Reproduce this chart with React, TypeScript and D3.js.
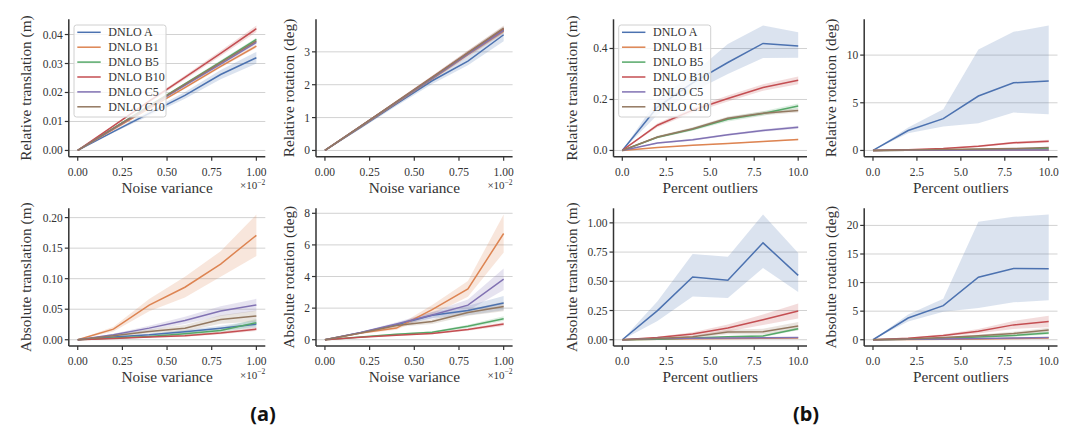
import React from "react";
import * as d3 from "d3";

const W = 1069;
const H = 428;

const seriesNames = ["DNLO A", "DNLO B1", "DNLO B5", "DNLO B10", "DNLO C5", "DNLO C10"];
const palette = ["#4C72B0", "#DD8452", "#55A868", "#C44E52", "#8172B3", "#937860"];

const noiseX = [0, 0.2, 0.4, 0.6, 0.8, 1.0];
const outlierX = [0, 2, 4, 6, 8, 10];
const noiseTicksX = [0, 0.25, 0.5, 0.75, 1.0];
const outlierTicksX = [0, 2.5, 5, 7.5, 10];

// (a) Relative translation vs noise variance
const relTransNoiseMean = [
  [0, 0.0065, 0.0128, 0.019, 0.0262, 0.032],
  [0, 0.0073, 0.0145, 0.0217, 0.029, 0.036],
  [0, 0.0077, 0.0154, 0.023, 0.0306, 0.0383],
  [0, 0.0085, 0.017, 0.0252, 0.0335, 0.042],
  [0, 0.0075, 0.015, 0.0225, 0.0298, 0.0373],
  [0, 0.0076, 0.0152, 0.0228, 0.0303, 0.0378],
];
const relTransNoiseErr = [
  [0, 0.0004, 0.0008, 0.0012, 0.0016, 0.002],
  [0, 0.0002, 0.0003, 0.0004, 0.0005, 0.0006],
  [0, 0.0002, 0.0003, 0.0004, 0.0005, 0.0006],
  [0, 0.0003, 0.0005, 0.0007, 0.0009, 0.0011],
  [0, 0.0002, 0.0003, 0.0004, 0.0005, 0.0006],
  [0, 0.0002, 0.0003, 0.0004, 0.0005, 0.0006],
];

// (a) Relative rotation vs noise variance
const relRotNoiseMean = [
  [0, 0.7, 1.42, 2.12, 2.72, 3.52],
  [0, 0.72, 1.45, 2.18, 2.92, 3.63],
  [0, 0.73, 1.47, 2.2, 2.95, 3.67],
  [0, 0.74, 1.48, 2.22, 2.97, 3.7],
  [0, 0.73, 1.46, 2.19, 2.93, 3.65],
  [0, 0.74, 1.48, 2.22, 2.97, 3.72],
];
const relRotNoiseErr = [
  [0, 0.04, 0.07, 0.1, 0.13, 0.2],
  [0, 0.02, 0.04, 0.05, 0.07, 0.08],
  [0, 0.02, 0.04, 0.05, 0.07, 0.08],
  [0, 0.02, 0.04, 0.05, 0.07, 0.08],
  [0, 0.02, 0.04, 0.05, 0.07, 0.08],
  [0, 0.02, 0.04, 0.05, 0.07, 0.08],
];

// (a) Absolute translation vs noise variance
const absTransNoiseMean = [
  [0, 0.0044, 0.008, 0.013, 0.019, 0.0256],
  [0, 0.0174, 0.0567, 0.086, 0.124, 0.171],
  [0, 0.003, 0.0055, 0.0098, 0.0153, 0.028],
  [0, 0.002, 0.0044, 0.0065, 0.011, 0.0174],
  [0, 0.008, 0.019, 0.0316, 0.047, 0.057],
  [0, 0.0065, 0.0136, 0.019, 0.033, 0.039],
];
const absTransNoiseErr = [
  [0, 0.001, 0.002, 0.003, 0.004, 0.006],
  [0, 0.004, 0.01, 0.017, 0.021, 0.034],
  [0, 0.001, 0.002, 0.003, 0.004, 0.006],
  [0, 0.0005, 0.001, 0.0015, 0.002, 0.003],
  [0, 0.002, 0.004, 0.006, 0.008, 0.01],
  [0, 0.002, 0.003, 0.005, 0.007, 0.009],
];

// (a) Absolute rotation vs noise variance
const absRotNoiseMean = [
  [0, 0.45, 0.95, 1.55, 1.85, 2.32],
  [0, 0.42, 0.74, 1.9, 3.22, 6.72],
  [0, 0.18, 0.35, 0.48, 0.85, 1.33],
  [0, 0.15, 0.28, 0.4, 0.65, 0.99],
  [0, 0.46, 1.0, 1.56, 2.19, 3.83],
  [0, 0.42, 0.9, 1.15, 1.72, 2.1],
];
const absRotNoiseErr = [
  [0, 0.05, 0.1, 0.2, 0.3, 0.45],
  [0, 0.05, 0.1, 0.3, 0.5, 1.2],
  [0, 0.02, 0.04, 0.06, 0.1, 0.15],
  [0, 0.02, 0.03, 0.05, 0.08, 0.12],
  [0, 0.05, 0.1, 0.2, 0.35, 0.68],
  [0, 0.05, 0.1, 0.15, 0.2, 0.3],
];

// (b) Relative translation vs percent outliers
const relTransOutMean = [
  [0, 0.17, 0.265, 0.345, 0.42, 0.41],
  [0, 0.012, 0.02, 0.027, 0.035, 0.043],
  [0, 0.052, 0.083, 0.122, 0.145, 0.174],
  [0, 0.099, 0.158, 0.204, 0.247, 0.275],
  [0, 0.029, 0.042, 0.062, 0.078, 0.091],
  [0, 0.053, 0.085, 0.126, 0.146, 0.157],
];
const relTransOutErr = [
  [0, 0.03, 0.04, 0.06, 0.06, 0.05],
  [0, 0.001, 0.002, 0.002, 0.002, 0.003],
  [0, 0.004, 0.006, 0.008, 0.009, 0.01],
  [0, 0.008, 0.01, 0.012, 0.013, 0.015],
  [0, 0.003, 0.004, 0.004, 0.005, 0.006],
  [0, 0.005, 0.006, 0.007, 0.008, 0.008],
];
const relTransOutBlueLo = [0, 0.14, 0.23, 0.3, 0.363, 0.364];
const relTransOutBlueHi = [0, 0.2, 0.3, 0.418, 0.49, 0.464];

// (b) Relative rotation vs percent outliers
const relRotOutMean = [
  [0, 2.09, 3.34, 5.71, 7.1, 7.28],
  [0, 0.01, 0.02, 0.03, 0.04, 0.05],
  [0, 0.03, 0.06, 0.1, 0.15, 0.2],
  [0, 0.08, 0.2, 0.45, 0.8, 0.97],
  [0, 0.02, 0.03, 0.04, 0.04, 0.05],
  [0, 0.05, 0.1, 0.15, 0.2, 0.3],
];
const relRotOutErr = [
  [0, 0.3, 0.9, 3.0, 4.0, 4.5],
  [0, 0.005, 0.01, 0.01, 0.015, 0.02],
  [0, 0.01, 0.02, 0.03, 0.04, 0.05],
  [0, 0.03, 0.06, 0.1, 0.12, 0.15],
  [0, 0.005, 0.01, 0.01, 0.015, 0.02],
  [0, 0.02, 0.03, 0.04, 0.05, 0.06],
];
const relRotOutBlueLo = [0, 1.8, 2.5, 2.86, 3.97, 3.8];
const relRotOutBlueHi = [0, 2.4, 4.32, 10.6, 12.44, 13.1];

// (b) Absolute translation vs percent outliers
const absTransOutMean = [
  [0, 0.249, 0.537, 0.509, 0.829, 0.551],
  [0, 0.005, 0.008, 0.01, 0.012, 0.015],
  [0, 0.005, 0.015, 0.025, 0.032, 0.094],
  [0, 0.02, 0.049, 0.1, 0.171, 0.246],
  [0, 0.01, 0.012, 0.015, 0.016, 0.02],
  [0, 0.01, 0.025, 0.066, 0.069, 0.117],
];
const absTransOutErr = [
  [0, 0.08, 0.18, 0.18, 0.23, 0.17],
  [0, 0.002, 0.002, 0.003, 0.003, 0.004],
  [0, 0.002, 0.004, 0.006, 0.008, 0.012],
  [0, 0.006, 0.015, 0.03, 0.045, 0.064],
  [0, 0.002, 0.003, 0.003, 0.004, 0.004],
  [0, 0.004, 0.01, 0.02, 0.025, 0.035],
];
const absTransOutBlueLo = [0, 0.16, 0.371, 0.357, 0.614, 0.409];
const absTransOutBlueHi = [0, 0.33, 0.734, 0.709, 1.071, 0.743];

// (b) Absolute rotation vs percent outliers
const absRotOutMean = [
  [0, 3.8, 5.96, 10.94, 12.46, 12.4],
  [0, 0.05, 0.1, 0.15, 0.2, 0.3],
  [0, 0.1, 0.25, 0.5, 0.75, 1.2],
  [0, 0.25, 0.75, 1.5, 2.6, 3.2],
  [0, 0.1, 0.15, 0.2, 0.3, 0.4],
  [0, 0.15, 0.4, 0.7, 1.1, 1.7],
];
const absRotOutErr = [
  [0, 0.6, 1.2, 5, 6, 6],
  [0, 0.02, 0.03, 0.05, 0.06, 0.08],
  [0, 0.05, 0.1, 0.15, 0.2, 0.3],
  [0, 0.1, 0.2, 0.4, 0.7, 1.0],
  [0, 0.03, 0.04, 0.05, 0.06, 0.08],
  [0, 0.05, 0.1, 0.2, 0.3, 0.4],
];
const absRotOutBlueLo = [0, 3.2, 4.9, 5.56, 6.55, 6.9];
const absRotOutBlueHi = [0, 4.4, 7.19, 20.64, 21.5, 21.9];

const yTicksRelTransNoise = [0, 0.01, 0.02, 0.03, 0.04];
const yTicksRelRotNoise = [0, 1, 2, 3];
const yTicksAbsTransNoise = [0, 0.05, 0.1, 0.15, 0.2];
const yTicksAbsRotNoise = [0, 2, 4, 6, 8];
const yTicksRelTransOut = [0, 0.2, 0.4];
const yTicksRelRotOut = [0, 5, 10];
const yTicksAbsTransOut = [0, 0.25, 0.5, 0.75, 1.0];
const yTicksAbsRotOut = [0, 5, 10, 15, 20];

const FONT = "'Liberation Serif', 'Times New Roman', serif";
const TEXT = "#333";

type PanelSpec = {
  mean: number[][];
  err: number[][];
  blueLo?: number[];
  blueHi?: number[];
  xs: number[];
  xTicks: number[];
  xFmt: string;
  yTicks: number[];
  yFmt: string;
  ylabel: string;
  xlabel: string;
  box: { l: number; r: number; t: number; b: number };
  ylabelX: number;
  legend?: boolean;
  offset?: boolean;
};

const colA = { l: 68.8, r: 265.3 };
const colB = { l: 316, r: 512.6 };
const colC = { l: 613.5, r: 807 };
const colD = { l: 864.2, r: 1057.5 };
const rowTop = { t: 19.3, b: 156.7 };
const rowBot = { t: 208.3, b: 346 };

const panels: PanelSpec[] = [
  { mean: relTransNoiseMean, err: relTransNoiseErr, xs: noiseX, xTicks: noiseTicksX, xFmt: ".2f", yTicks: yTicksRelTransNoise, yFmt: ".2f", ylabel: "Relative translation (m)", xlabel: "Noise variance", box: { ...colA, ...rowTop }, ylabelX: 31, legend: true, offset: true },
  { mean: relRotNoiseMean, err: relRotNoiseErr, xs: noiseX, xTicks: noiseTicksX, xFmt: ".2f", yTicks: yTicksRelRotNoise, yFmt: "d", ylabel: "Relative rotation (deg)", xlabel: "Noise variance", box: { ...colB, ...rowTop }, ylabelX: 293.5, offset: true },
  { mean: absTransNoiseMean, err: absTransNoiseErr, xs: noiseX, xTicks: noiseTicksX, xFmt: ".2f", yTicks: yTicksAbsTransNoise, yFmt: ".2f", ylabel: "Absolute translation (m)", xlabel: "Noise variance", box: { ...colA, ...rowBot }, ylabelX: 31, offset: true },
  { mean: absRotNoiseMean, err: absRotNoiseErr, xs: noiseX, xTicks: noiseTicksX, xFmt: ".2f", yTicks: yTicksAbsRotNoise, yFmt: "d", ylabel: "Absolute rotation (deg)", xlabel: "Noise variance", box: { ...colB, ...rowBot }, ylabelX: 293.5, offset: true },
  { mean: relTransOutMean, err: relTransOutErr, blueLo: relTransOutBlueLo, blueHi: relTransOutBlueHi, xs: outlierX, xTicks: outlierTicksX, xFmt: ".1f", yTicks: yTicksRelTransOut, yFmt: ".1f", ylabel: "Relative translation (m)", xlabel: "Percent outliers", box: { ...colC, ...rowTop }, ylabelX: 576.5, legend: true },
  { mean: relRotOutMean, err: relRotOutErr, blueLo: relRotOutBlueLo, blueHi: relRotOutBlueHi, xs: outlierX, xTicks: outlierTicksX, xFmt: ".1f", yTicks: yTicksRelRotOut, yFmt: "d", ylabel: "Relative rotation (deg)", xlabel: "Percent outliers", box: { ...colD, ...rowTop }, ylabelX: 835.5 },
  { mean: absTransOutMean, err: absTransOutErr, blueLo: absTransOutBlueLo, blueHi: absTransOutBlueHi, xs: outlierX, xTicks: outlierTicksX, xFmt: ".1f", yTicks: yTicksAbsTransOut, yFmt: ".2f", ylabel: "Absolute translation (m)", xlabel: "Percent outliers", box: { ...colC, ...rowBot }, ylabelX: 576.5 },
  { mean: absRotOutMean, err: absRotOutErr, blueLo: absRotOutBlueLo, blueHi: absRotOutBlueHi, xs: outlierX, xTicks: outlierTicksX, xFmt: ".1f", yTicks: yTicksAbsRotOut, yFmt: "d", ylabel: "Absolute rotation (deg)", xlabel: "Percent outliers", box: { ...colD, ...rowBot }, ylabelX: 835.5 },
];

function Panel({ p }: { p: PanelSpec }) {
  const { l, r, t, b } = p.box;
  const lows = p.mean.map((row, si) =>
    row.map((v, j) => (si === 0 && p.blueLo ? p.blueLo[j] : v - p.err[si][j]))
  );
  const highs = p.mean.map((row, si) =>
    row.map((v, j) => (si === 0 && p.blueHi ? p.blueHi[j] : v + p.err[si][j]))
  );
  const yMin = Math.min(0, d3.min(lows.flat()) as number);
  const yMax = d3.max(highs.flat()) as number;
  const yr = yMax - yMin;
  const [x0, x1] = d3.extent(p.xs) as [number, number];
  const xr = x1 - x0;
  const x = d3.scaleLinear().domain([x0 - 0.05 * xr, x1 + 0.05 * xr]).range([l, r]);
  const y = d3.scaleLinear().domain([yMin - 0.05 * yr, yMax + 0.05 * yr]).range([b, t]);
  const line = d3.line<number>().x((_, i) => x(p.xs[i])).y((d) => y(d));
  const xf = d3.format(p.xFmt);
  const yf = d3.format(p.yFmt);

  const legendX = l + 5.2;
  const legendY = t + 5.7;

  return (
    <g>
      {p.yTicks.map((v) => (
        <line key={"g" + v} x1={l} x2={r} y1={y(v)} y2={y(v)} stroke="#d2d2d2" strokeWidth={1} />
      ))}
      {p.mean.map((row, si) => {
        const area = d3
          .area<number>()
          .x((_, i) => x(p.xs[i]))
          .y0((_, i) => y(lows[si][i]))
          .y1((_, i) => y(highs[si][i]));
        return <path key={"a" + si} d={area(row) || ""} fill={palette[si]} fillOpacity={0.2} stroke="none" />;
      })}
      {p.mean.map((row, si) => (
        <path key={"l" + si} d={line(row) || ""} fill="none" stroke={palette[si]} strokeWidth={1.5} />
      ))}
      <line x1={l} x2={l} y1={t} y2={b} stroke={TEXT} strokeWidth={1.5} />
      <line x1={l} x2={r} y1={b} y2={b} stroke={TEXT} strokeWidth={1.5} />
      {p.yTicks.map((v) => (
        <g key={"yt" + v}>
          <line x1={l - 4} x2={l} y1={y(v)} y2={y(v)} stroke={TEXT} strokeWidth={1.2} />
          <text x={l - 6} y={y(v) + 4} textAnchor="end" fontSize={11.5} fontFamily={FONT} fill={TEXT}>
            {yf(v)}
          </text>
        </g>
      ))}
      {p.xTicks.map((v) => (
        <g key={"xt" + v}>
          <line x1={x(v)} x2={x(v)} y1={b} y2={b + 4} stroke={TEXT} strokeWidth={1.2} />
          <text x={x(v)} y={b + 19} textAnchor="middle" fontSize={11.5} fontFamily={FONT} fill={TEXT}>
            {xf(v)}
          </text>
        </g>
      ))}
      <text x={(l + r) / 2} y={b + 36} textAnchor="middle" fontSize={15.3} fontFamily={FONT} fill={TEXT}>
        {p.xlabel}
      </text>
      <text
        transform={`translate(${p.ylabelX},${(t + b) / 2}) rotate(-90)`}
        textAnchor="middle"
        fontSize={15.3}
        fontFamily={FONT}
        fill={TEXT}
      >
        {p.ylabel}
      </text>
      {p.offset && (
        <text x={r} y={b + 32.5} textAnchor="end" fontSize={11} fontFamily={FONT} fill={TEXT}>
          ×10
          <tspan dy={-4.5} fontSize={7.5}>
            −2
          </tspan>
        </text>
      )}
      {p.legend && (
        <g>
          <rect x={legendX} y={legendY} width={92} height={92} rx={2.5} fill="#fff" fillOpacity={0.8} stroke="#d0d0d0" strokeWidth={1} />
          {seriesNames.map((name, si) => {
            const cy = legendY + 7.3 + si * 14.9;
            return (
              <g key={"lg" + si}>
                <line x1={legendX + 3.3} x2={legendX + 26.7} y1={cy} y2={cy} stroke={palette[si]} strokeWidth={1.5} />
                <text x={legendX + 34.3} y={cy + 4} fontSize={12} fontFamily={FONT} fill={TEXT}>
                  {name}
                </text>
              </g>
            );
          })}
        </g>
      )}
    </g>
  );
}

export default function App() {
  return (
    <svg width={W} height={H} style={{ position: "absolute", left: 0, top: 0, background: "#fff" }}>
      <rect x={0} y={0} width={W} height={H} fill="#fff" />
      {panels.map((p, i) => (
        <Panel key={i} p={p} />
      ))}
      <text x={263} y={421} textAnchor="middle" fontSize={20} fontWeight="bold" fontFamily="'Noto Sans', 'DejaVu Sans', sans-serif" fill="#111">
        (a)
      </text>
      <text x={806} y={421} textAnchor="middle" fontSize={20} fontWeight="bold" fontFamily="'Noto Sans', 'DejaVu Sans', sans-serif" fill="#111">
        (b)
      </text>
    </svg>
  );
}
